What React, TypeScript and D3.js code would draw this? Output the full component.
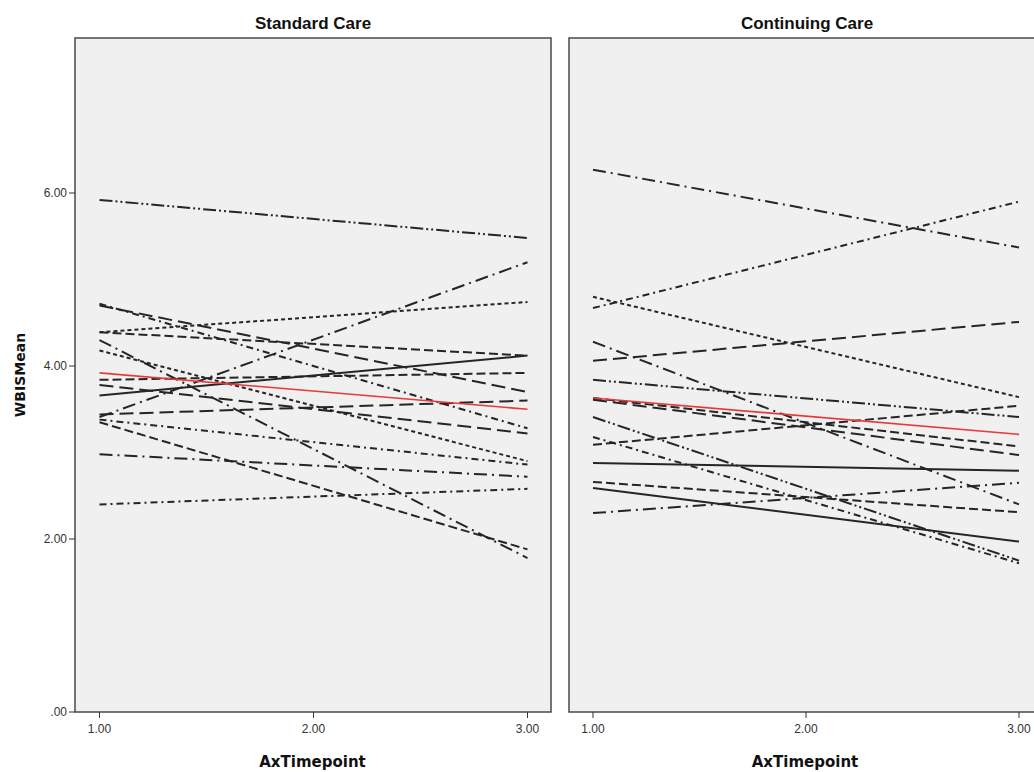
import React from 'react';
import * as d3 from 'd3';

// values at AxTimepoint 1.00 and 3.00, one entry per case
const timepoints = [1, 3];
const yTicks = [0, 2, 4, 6];
const xTicks = [1, 2, 3];
const panelTitles = ['Standard Care', 'Continuing Care'];

const standardStart = [5.92, 4.72, 4.70, 4.39, 4.39, 4.30, 4.18, 3.84, 3.78, 3.66, 3.44, 3.41, 3.38, 3.35, 2.98, 2.40];
const standardEnd = [5.48, 3.28, 3.70, 4.74, 4.12, 1.78, 2.90, 3.92, 3.22, 4.12, 3.60, 5.20, 2.86, 1.88, 2.72, 2.58];
const standardMean = [3.92, 3.50];

const continuingStart = [6.27, 4.80, 4.67, 4.28, 4.06, 3.84, 3.63, 3.61, 3.41, 3.18, 3.09, 2.88, 2.66, 2.59, 2.30];
const continuingEnd = [5.37, 3.64, 5.90, 2.40, 4.51, 3.41, 3.07, 2.97, 1.75, 1.72, 3.54, 2.79, 2.31, 1.97, 2.65];
const continuingMean = [3.63, 3.21];

// dash patterns (by line index)
const DASH: Record<string, string> = {
  solid: 'none',
  dash: '9,4',
  short: '4,3',
  long: '14,6',
  dashdot: '13,5,2,5',
  dashdot2: '7,4,2,4',
  dashdotdot: '13,3,2,3,2,3',
};
const standardStyles = ['dashdotdot', 'dashdot2', 'long', 'short', 'dash', 'dashdot', 'short', 'dash', 'long', 'solid', 'long', 'dashdot', 'dashdot2', 'dash', 'dashdot', 'dashdot2'];
const continuingStyles = ['dashdot', 'short', 'dashdot2', 'dashdot', 'long', 'dashdotdot', 'dash', 'long', 'dashdotdot', 'dashdot2', 'dash', 'solid', 'dash', 'solid', 'dashdot'];

const W = 1034;
const H = 772;
const panelTop = 38;
const panelBottom = 712;
const panels = [
  { left: 75, right: 551, x1: 99.5, x3: 527.5 },
  { left: 569, right: 1045, x1: 593, x3: 1019 },
];

const y = d3.scaleLinear().domain([0, 6]).range([712, 193]);
const fmt = (v: number) => (v === 0 ? '.00' : d3.format('.2f')(v));

function Panel({ idx, starts, ends, styles, mean }: any) {
  const p = panels[idx];
  const x = d3.scaleLinear().domain([1, 3]).range([p.x1, p.x3]);
  const line = d3.line<number>().x((_, i) => x(timepoints[i])).y((d) => y(d));
  return (
    <g>
      <rect x={p.left} y={panelTop} width={p.right - p.left} height={panelBottom - panelTop}
        fill="#f0f0f0" stroke="#4a4a4a" strokeWidth={1.5} />
      <text x={(p.left + p.right) / 2} y={29} textAnchor="middle" fontFamily="'Liberation Sans Narrow', 'Liberation Sans', Arial"
        fontWeight="bold" fontSize={17} fill="#111">{panelTitles[idx]}</text>
      {starts.map((s: number, i: number) => (
        <path key={i} d={line([s, ends[i]]) || ''} fill="none" stroke="#252525" strokeWidth={2}
          strokeDasharray={DASH[styles[i]]} />
      ))}
      <path d={line(mean) || ''} fill="none" stroke="#e8383a" strokeWidth={1.6} />
      {xTicks.map((t) => (
        <g key={t}>
          <line x1={x(t)} x2={x(t)} y1={panelBottom} y2={panelBottom + 6} stroke="#333" strokeWidth={1} />
          <text x={x(t)} y={733} textAnchor="middle" fontFamily="'Liberation Sans', Arial" fontSize={12}
            fill="#333">{d3.format('.2f')(t)}</text>
        </g>
      ))}
      <text x={(p.x1 + p.x3) / 2 - 1} y={767} textAnchor="middle" fontFamily="'DejaVu Sans', 'Liberation Sans'"
        fontWeight="bold" fontSize={15} fill="#111">AxTimepoint</text>
    </g>
  );
}

export default function App() {
  return (
    <svg width={W} height={H} style={{ position: 'absolute', left: 0, top: 0, background: '#fff' }}>
      <rect width={W} height={H} fill="#fff" />
      <Panel idx={0} starts={standardStart} ends={standardEnd} styles={standardStyles} mean={standardMean} />
      <Panel idx={1} starts={continuingStart} ends={continuingEnd} styles={continuingStyles} mean={continuingMean} />
      {yTicks.map((t) => (
        <g key={t}>
          <line x1={69} x2={75} y1={y(t)} y2={y(t)} stroke="#333" strokeWidth={1} />
          <text x={67} y={y(t) + 4} textAnchor="end" fontFamily="'Liberation Sans', Arial" fontSize={12}
            fill="#333">{fmt(t)}</text>
        </g>
      ))}
      <text transform={`translate(25,${(panelTop + panelBottom) / 2}) rotate(-90)`} textAnchor="middle"
        fontFamily="'DejaVu Sans', 'Liberation Sans'" fontWeight="bold" fontSize={14} fill="#111">WBISMean</text>
    </svg>
  );
}
